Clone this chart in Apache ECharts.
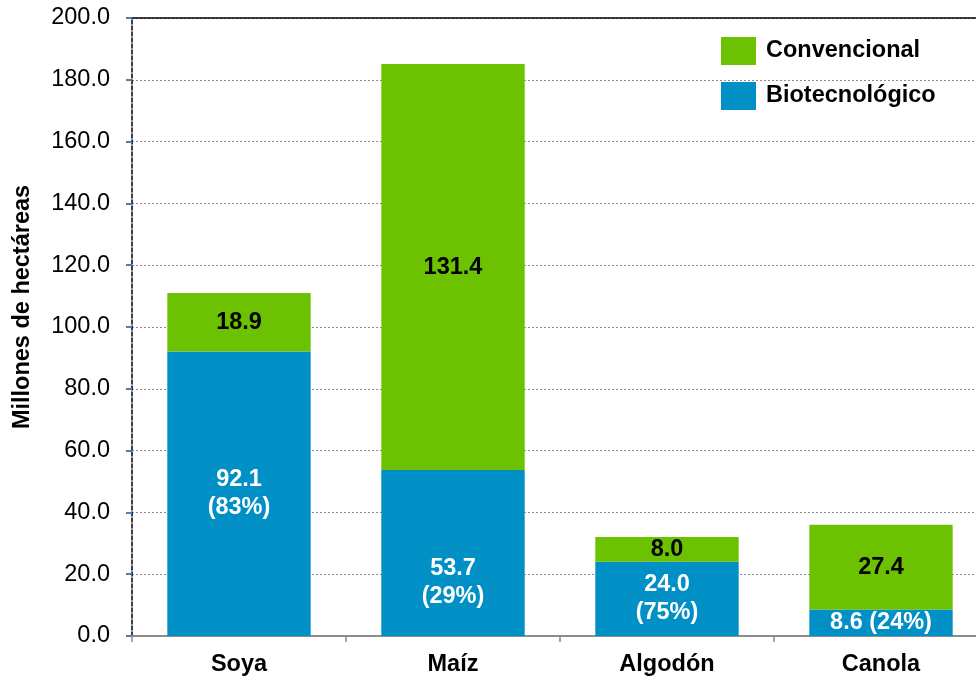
<!DOCTYPE html>
<html>
<head>
<meta charset="utf-8">
<script src="https://cdn.jsdelivr.net/npm/echarts@6/dist/echarts.min.js"></script>
<style>
  html, body { margin: 0; padding: 0; background: #fff; }
  #chart { width: 976px; height: 679px; }
</style>
</head>
<body>
<div id="chart"></div>
<script>
var categories = ['Soya', 'Maíz', 'Algodón', 'Canola'];
var biotech = [92.1, 53.7, 24.0, 8.6];
var convencional = [18.9, 131.4, 8.0, 27.4];
var biotechShare = ['83%', '29%', '75%', '24%'];
var yTicks = [0, 20, 40, 60, 80, 100, 120, 140, 160, 180, 200];

var GREEN = '#6cc200';
var BLUE = '#0090c6';
var FS = 23.5;

// bio labels: two lines, except canola which is too short
var bioData = biotech.map(function (v, i) {
  var item = { value: v };
  if (i === 3) {
    item.label = { formatter: v.toFixed(1) + ' (' + biotechShare[i] + ')' };
  } else if (i === 1) {
    item.label = { offset: [0, 29] };
  }
  return item;
});

var chart = echarts.init(document.getElementById('chart'));
chart.setOption({
  animation: false,
  textStyle: { fontFamily: 'Liberation Sans, Arial, sans-serif' },
  grid: { left: 132, top: 18, bottom: 43, right: -12, outerBoundsMode: 'none' },
  legend: {
    orient: 'vertical',
    left: 716,
    top: 32,
    itemWidth: 35,
    itemHeight: 28,
    itemGap: 17,
    icon: 'rect',
    data: ['Convencional', 'Biotecnológico'],
    textStyle: { fontSize: FS, fontWeight: 'bold', color: '#000', lineHeight: 28, padding: [0, 0, 0, 5] }
  },
  xAxis: [{
    type: 'category',
    data: categories,
    axisLine: { lineStyle: { color: '#8c8c8c', width: 2 } },
    axisTick: { show: true, alignWithLabel: false, length: 6, lineStyle: { color: '#8c8c8c', width: 1.5 } },
    axisLabel: { fontSize: FS, fontWeight: 'bold', color: '#000', margin: 17 }
  }, {
    type: 'category',
    position: 'top',
    data: categories,
    axisLine: { show: true, lineStyle: { color: '#000', width: 1.5 } },
    axisTick: { show: false },
    axisLabel: { show: false }
  }],
  yAxis: {
    type: 'value',
    min: yTicks[0],
    max: yTicks[yTicks.length - 1],
    interval: 20,
    name: 'Millones de hectáreas',
    nameLocation: 'middle',
    nameGap: 97,
    nameTextStyle: { fontSize: FS, fontWeight: 'bold', color: '#000', padding: [0, 0, 0, 40] },
    axisLine: { show: true, lineStyle: { color: '#000', type: [4, 2], width: 1.5 } },
    axisTick: { show: true, length: 6, lineStyle: { color: '#4a7ebb', width: 2 } },
    axisLabel: {
      fontSize: FS, color: '#000', margin: 22,
      formatter: function (v) { return v.toFixed(1); }
    },
    splitLine: { show: true, lineStyle: { color: '#8c8c8c', type: [2, 2], width: 1 } }
  },
  series: [{
    name: 'Biotecnológico',
    type: 'bar',
    stack: 'total',
    barWidth: '67%',
    itemStyle: { color: BLUE },
    label: {
      show: true,
      position: 'inside',
      color: '#fff',
      fontSize: FS,
      fontWeight: 'bold',
      lineHeight: 28,
      formatter: function (p) {
        return p.value.toFixed(1) + '\n(' + biotechShare[p.dataIndex] + ')';
      }
    },
    data: bioData
  }, {
    name: 'Convencional',
    type: 'bar',
    stack: 'total',
    barWidth: '67%',
    itemStyle: { color: GREEN },
    label: {
      show: true,
      position: 'inside',
      color: '#000',
      fontSize: FS,
      fontWeight: 'bold',
      formatter: function (p) { return p.value.toFixed(1); }
    },
    data: convencional
  }]
});
</script>
</body>
</html>
